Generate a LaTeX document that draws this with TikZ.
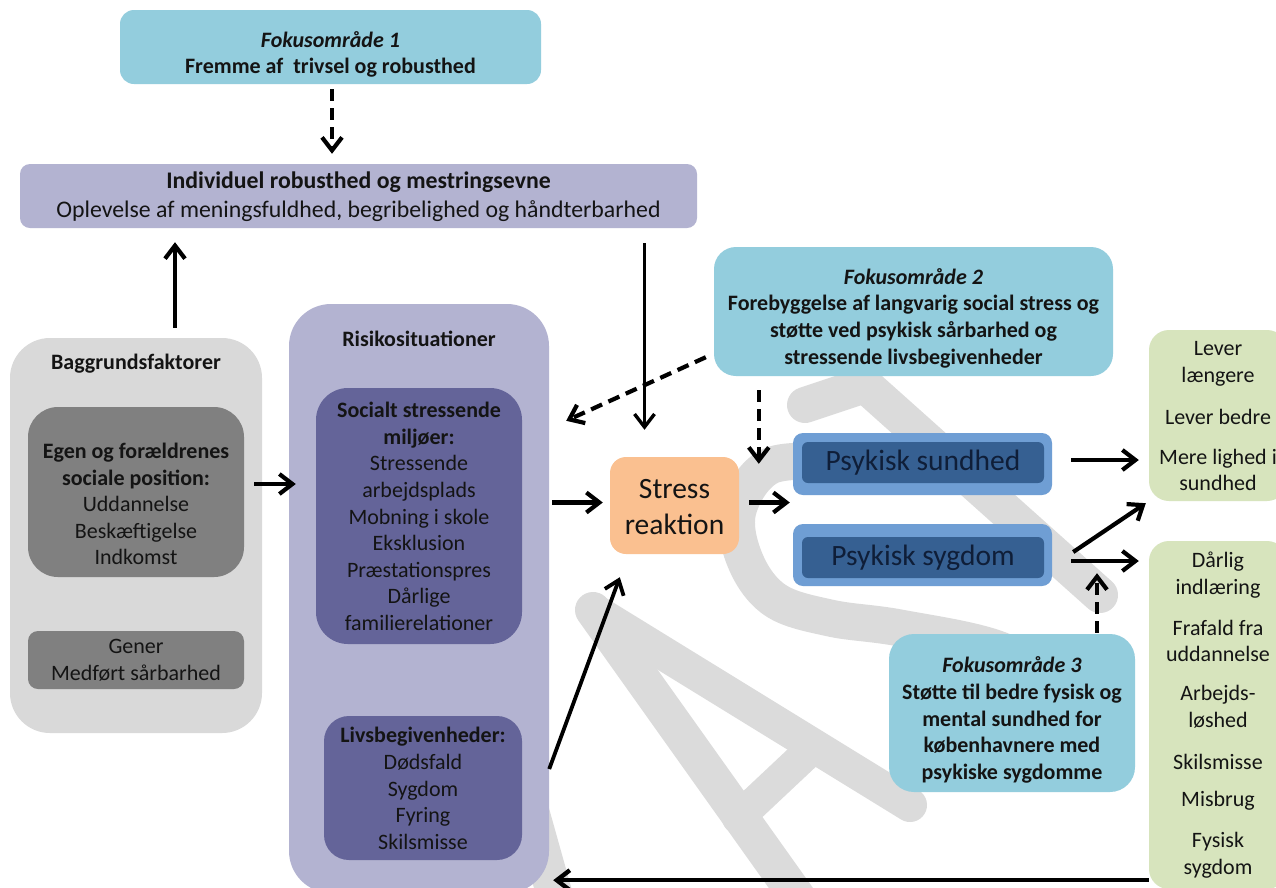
\documentclass[tikz,border=0pt]{standalone}
\usepackage{fontspec}
\setmainfont{Carlito}
\usetikzlibrary{arrows.meta,calc}
\definecolor{fok}{HTML}{93CDDD}
\definecolor{lav}{HTML}{B3B3D1}
\definecolor{pur}{HTML}{646499}
\definecolor{lgray}{HTML}{D9D9D9}
\definecolor{dgray}{HTML}{808080}
\definecolor{orng}{HTML}{FAC090}
\definecolor{pblue}{HTML}{6F9ED4}
\definecolor{dblue}{HTML}{366092}
\definecolor{grn}{HTML}{D7E4BD}
\definecolor{wmark}{HTML}{DBDBDB}
\definecolor{navy}{HTML}{0F1E38}
\definecolor{ink}{HTML}{141414}
\begin{document}
\begin{tikzpicture}[x=1pt,y=-1pt,
  box/.style={inner sep=0pt, draw=none},
  txt/.style={align=center, inner sep=0pt, text=ink, font=\fontsize{22}{26.6}\selectfont},
  big/.style={align=center, inner sep=0pt, font=\fontsize{29.5}{36}\selectfont},
  arr/.style={line width=4.2pt, -{Straight Barb[length=13pt,width=20pt]}},
  darr/.style={arr, dash pattern=on 12pt off 7pt},
  wm/.style={draw=wmark, line cap=round, line join=round},
]
\useasboundingbox (0,0) rectangle (1276,887);
\fill[white] (0,0) rectangle (1276,887);

% watermark
\draw[wm, line width=36pt] (593,610) -- (803,905);
\draw[wm, line width=34pt] (593,610) -- (910,805);
\draw[wm, line width=32pt] (738,818) -- (805,755);
\draw[wm, line width=36pt] (805,405) -- (865,385) -- (1100,595);
\draw[wm, line width=37pt] plot[smooth, tension=0.6] coordinates {(835,462) (770,466) (738,510) (745,560) (775,600) (830,618) (900,628) (1000,650) (1060,690)};
\draw[wm, line width=36pt] (528,800) -- (556,900);

% boxes
\node[box, fill=fok, rounded corners=14pt, minimum width=421pt, minimum height=74pt] (fok1) at (330.5,47) {};
\node[box, fill=lav, rounded corners=10pt, minimum width=677pt, minimum height=64pt] (indiv) at (358.5,196) {};
\node[box, fill=fok, rounded corners=22pt, minimum width=399pt, minimum height=129pt] (fok2) at (913.5,311.5) {};
\node[box, fill=lgray, rounded corners=40pt, minimum width=252pt, minimum height=395pt] (bag) at (136,535.5) {};
\node[box, fill=dgray, rounded corners=30pt, minimum width=216pt, minimum height=170pt] (egen) at (136,492) {};
\node[box, fill=dgray, rounded corners=10pt, minimum width=216pt, minimum height=58pt] (gener) at (136,660) {};
\node[box, fill=lav, rounded corners=42pt, minimum width=260pt, minimum height=589pt] (risiko) at (419,598.5) {};
\node[box, fill=pur, rounded corners=32pt, minimum width=206pt, minimum height=256pt] (social) at (419,516) {};
\node[box, fill=pur, rounded corners=25pt, minimum width=198pt, minimum height=144pt] (liv) at (423,788) {};
\node[box, fill=orng, rounded corners=16pt, minimum width=129pt, minimum height=97pt] (stress) at (674.5,505.5) {};
\node[box, fill=pblue, rounded corners=10pt, minimum width=259pt, minimum height=62pt] (psyk1) at (922.5,464) {};
\node[box, fill=dblue, rounded corners=6pt, minimum width=242pt, minimum height=41pt] (psyk1i) at (923,462.5) {};
\node[box, fill=pblue, rounded corners=10pt, minimum width=259pt, minimum height=62pt] (psyk2) at (922.5,555) {};
\node[box, fill=dblue, rounded corners=6pt, minimum width=242pt, minimum height=41pt] (psyk2i) at (923,557.5) {};
\node[box, fill=fok, rounded corners=25pt, minimum width=246pt, minimum height=158pt] (fok3) at (1012,713) {};
\node[box, fill=grn, rounded corners=20pt, minimum width=138pt, minimum height=171pt] (green1) at (1218,415.5) {};
\node[box, fill=grn, rounded corners=20pt, minimum width=138pt, minimum height=348pt] (green2) at (1218,715) {};

% texts
\node[txt] (fok1t) at (330.5,54.5) {\textbf{\textit{Fokusområde 1}}\\\textbf{Fremme af\ \ trivsel og robusthed}};
\node[txt, font=\fontsize{23.8}{29}\selectfont] (indivt) at (358.5,197) {\textbf{Individuel robusthed og mestringsevne}\\Oplevelse af meningsfuldhed, begribelighed og håndterbarhed};
\node[txt] (fok2t) at (913.5,318) {\textbf{\textit{Fokusområde 2}}\\\textbf{Forebyggelse af langvarig social stress og}\\\textbf{støtte ved psykisk sårbarhed og}\\\textbf{stressende livsbegivenheder}};
\node[txt] (bagt) at (136,364) {\textbf{Baggrundsfaktorer}};
\node[txt] (egent) at (136,504) {\textbf{Egen og forældrenes}\\\textbf{sociale position:}\\Uddannelse\\Beskæftigelse\\Indkomst};
\node[txt] (genert) at (136,660) {Gener\\Medført sårbarhed};
\node[txt] (risikot) at (419,339) {\textbf{Risikosituationer}};
\node[txt] (socialt) at (419,516.5) {\textbf{Socialt stressende}\\\textbf{miljøer:}\\Stressende\\arbejdsplads\\Mobning i skole\\Eksklusion\\Præstationspres\\Dårlige\\familierelationer};
\node[txt] (livt) at (423,788.5) {\textbf{Livsbegivenheder:}\\Dødsfald\\Sygdom\\Fyring\\Skilsmisse};
\node[big, text=ink] (stresst) at (674.5,507) {Stress\\reaktion};
\node[big, text=navy] (psyk1t) at (923,463) {Psykisk sundhed};
\node[big, text=navy] (psyk2t) at (923,558) {Psykisk sygdom};
\node[txt] (fok3t) at (1012,720) {\textbf{\textit{Fokusområde 3}}\\\textbf{Støtte til bedre fysisk og}\\\textbf{mental sundhed for}\\\textbf{københavnere med}\\\textbf{psykiske sygdomme}};
\node[txt] (g1a) at (1218,364) {Lever\\længere};
\node[txt] (g1b) at (1218,417) {Lever bedre};
\node[txt] (g1c) at (1218,470) {Mere lighed i\\sundhed};
\node[txt] (g2a) at (1218,575) {Dårlig\\indlæring};
\node[txt] (g2b) at (1218,641) {Frafald fra\\uddannelse};
\node[txt] (g2c) at (1218,707) {Arbejds-\\løshed};
\node[txt] (g2d) at (1218,762) {Skilsmisse};
\node[txt] (g2e) at (1218,801) {Misbrug};
\node[txt] (g2f) at (1218,855.5) {Fysisk\\sygdom};

% connectors
\draw[darr] ($(fok1.south)+(1.5,5)$) -- ($(fok1.south |- indiv.north)+(1.5,-10)$);
\draw[arr] ($(bag.north)+(39,-10)$) -- ($(bag.north |- indiv.south)+(39,14)$);
\draw[arr, line width=3.4pt] ($(indiv.south -| stress.north)+(-30,15)$) -- ($(stress.north)+(-30,-27)$);
\draw[darr] ($(fok2.south west)+(-8,-19)$) -- ($(risiko.north east)+(17,117)$);
\draw[darr] ($(fok2.south west)+(45,14)$) -- ($(psyk1.north west)+(-34,31)$);
\draw[arr] ($(egen.east)+(10,-8)$) -- ($(risiko.west |- egen.east)+(7,-8)$);
\draw[arr] ($(stress.west -| risiko.east)+(3,-3)$) -- ($(stress.west)+(-7,-3)$);
\draw[arr] ($(stress.east)+(10,-3)$) -- ($(stress.east -| psyk1.west)+(-3,-3)$);
\draw[arr] ($(psyk1.east)+(19,-4)$) -- ($(psyk1.east -| green1.west)+(-10,-4)$);
\draw[arr] ($(psyk2.east)+(21,-3)$) -- ($(green1.south west)+(-3,2)$);
\draw[arr] ($(psyk2.east)+(19,6)$) -- ($(psyk2.east -| green2.west)+(-10,6)$);
\draw[darr] ($(fok3.north)+(85,-1)$) -- ($(psyk2.south -| fok3.north)+(85,-13)$);
\draw[arr, line width=4.4pt] ($(green2.south west)+(0,-9)$) -- ($(risiko.east |- green2.south west)+(4,-9)$);
\draw[arr, line width=3.8pt] ($(risiko.east |- liv.east)+(0,-19)$) -- ($(stress.south west)+(10,23)$);
\end{tikzpicture}
\end{document}
